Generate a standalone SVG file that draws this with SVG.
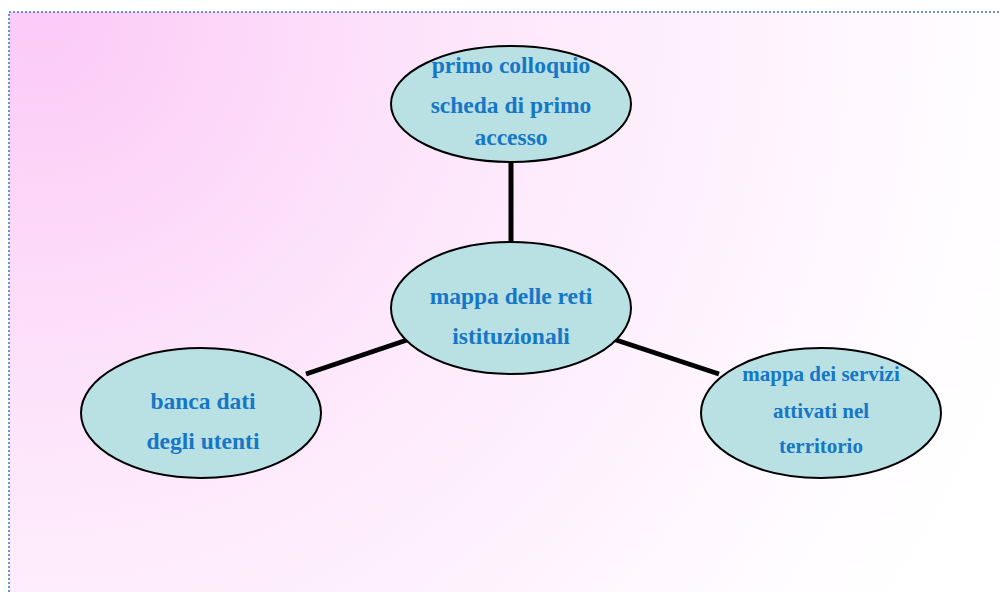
<svg xmlns="http://www.w3.org/2000/svg" width="1001" height="592" viewBox="0 0 1001 592">
<defs>
<radialGradient id="bg" gradientUnits="userSpaceOnUse" cx="40" cy="20" r="1050">
<stop offset="0" stop-color="#fccaf7"/>
<stop offset="0.4" stop-color="#fde6fb"/>
<stop offset="0.9" stop-color="#fffdff"/>
<stop offset="1" stop-color="#ffffff"/>
</radialGradient>
<style>
.n{fill:#b9e0e3;stroke:#000;stroke-width:2}
.t{font-family:"Liberation Serif",serif;font-weight:bold;font-size:23.5px;fill:#1677c6;text-anchor:middle}
.s{font-size:21px}
.c{stroke:#000;stroke-width:5;fill:none}
</style>
</defs>
<rect x="0" y="0" width="1001" height="592" fill="#ffffff"/>
<rect x="9" y="12" width="1000" height="590" fill="url(#bg)"/>
<path d="M9 592 V12 H1001" fill="none" stroke="#3d6fcc" stroke-width="1.5" stroke-dasharray="2 2"/>
<g id="connectors">
<line class="c" x1="511" y1="162" x2="511" y2="241"/>
<line class="c" x1="306" y1="374" x2="410" y2="339"/>
<line class="c" x1="613" y1="339" x2="719" y2="374"/>
</g>
<g id="top">
<ellipse class="n" cx="511" cy="104" rx="120" ry="58"/>
<text class="t" x="511" y="73">primo colloquio</text>
<text class="t" x="511" y="113">scheda di primo</text>
<text class="t" x="511" y="145">accesso</text>
</g>
<g id="center">
<ellipse class="n" cx="511" cy="308" rx="120" ry="66"/>
<text class="t" x="511" y="304">mappa delle reti</text>
<text class="t" x="511" y="344">istituzionali</text>
</g>
<g id="left">
<ellipse class="n" cx="201" cy="413" rx="120" ry="65"/>
<text class="t" x="203" y="409">banca dati</text>
<text class="t" x="203" y="449">degli utenti</text>
</g>
<g id="right">
<ellipse class="n" cx="821" cy="413" rx="120" ry="65"/>
<text class="t s" x="821" y="381">mappa dei servizi</text>
<text class="t s" x="821" y="418">attivati nel</text>
<text class="t s" x="821" y="453">territorio</text>
</g>
</svg>
